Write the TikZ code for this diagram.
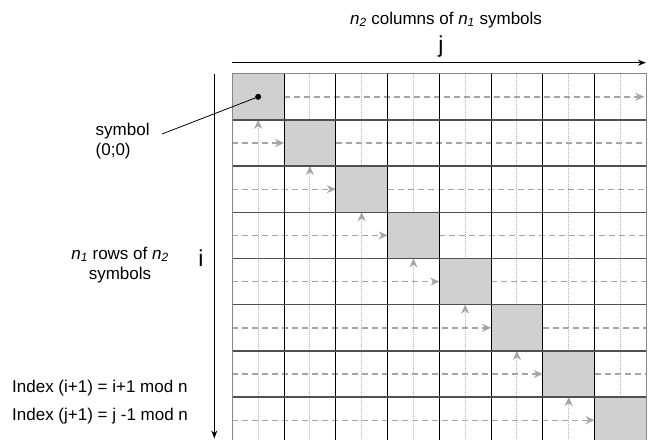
\documentclass[tikz,border=0pt]{standalone}
\usepackage{fontspec}
\setmainfont{Liberation Sans}
\usetikzlibrary{arrows.meta,calc}
\definecolor{cellgray}{RGB}{208,208,208}
\definecolor{pathgray}{RGB}{165,165,165}
\definecolor{dotgray}{RGB}{180,180,180}
\definecolor{rowline}{RGB}{80,80,80}
\definecolor{frameline}{RGB}{135,135,135}

\begin{document}
\begin{tikzpicture}[x=1pt,y=-1pt,
    rowpath/.style={draw=pathgray,line width=1.4pt,dash pattern=on 6pt off 4pt},
    colpath/.style={draw=dotgray,line width=0.9pt,dash pattern=on 1pt off 1pt},
    pathtip/.style={-{Stealth[length=9pt,width=8pt,color=pathgray]}},
    axis/.style={line width=1.1pt,-{Stealth[length=8pt,width=6pt]}},
    hline/.style={draw=rowline,line width=1.3pt},
    vline/.style={draw=black,line width=1pt},
    frame/.style={draw=frameline,line width=1.4pt},
    lbl/.style={font=\fontsize{17}{20}\selectfont,inner sep=0pt},
    axlbl/.style={font=\fontsize{23}{26}\selectfont,inner sep=0pt}]
  \useasboundingbox (0,0) rectangle (650,439);
  \clip (0,0) rectangle (650,439);
  \def\gx{232.3}\def\gy{73.7}\def\cw{51.75}\def\ch{46.2}
  % diagonal symbols
  \foreach \k in {0,...,7}
    \fill[cellgray] ({\gx+\k*\cw},{\gy+\k*\ch}) rectangle ++(\cw,\ch);
  % read paths through the matrix
  \foreach \k in {0,...,7}{
    \pgfmathsetmacro\xm{\gx+(\k+0.5)*\cw}
    \pgfmathsetmacro\ym{\gy+(\k+0.5)*\ch}
    \ifnum\k>0
      \draw[colpath] (\xm,\gy) -- (\xm,{\gy+\k*\ch});
      \draw[rowpath,pathtip] (\gx,\ym) -- ({\gx+\k*\cw},\ym);
      \ifnum\k<7
        \draw[rowpath] ({\gx+(\k+1)*\cw},\ym) -- ({\gx+8*\cw},\ym);
      \fi
    \fi
    \ifnum\k<7
      \draw[colpath,pathtip] (\xm,{\gy+8*\ch}) -- (\xm,{\gy+(\k+1)*\ch});
    \fi
  }
  \draw[rowpath,pathtip] ({\gx+\cw},{\gy+0.5*\ch}) -- ({\gx+8*\cw-2},{\gy+0.5*\ch});
  % grid
  \foreach \k in {1,...,7}
    \draw[vline] ({\gx+\k*\cw},\gy) -- ++(0,{8*\ch});
  \foreach \k in {1,...,8}
    \draw[hline] (\gx,{\gy+\k*\ch}) -- ++({8*\cw},0);
  \draw[frame] (\gx,{\gy+8*\ch}) -- (\gx,\gy) -- ({\gx+8*\cw},\gy) -- ++(0,{8*\ch});
  % axes
  \coordinate (jstart) at (\gx,62.7);
  \coordinate (jend) at (646,62.7);
  \coordinate (istart) at (214.3,\gy);
  \coordinate (iend) at (214.3,438.5);
  \draw[axis] (jstart) -- (jend);
  \draw[axis] (istart) -- (iend);
  \node[axlbl,anchor=base] (jlbl) at (441,52.5) {j};
  \node[axlbl,anchor=base] (ilbl) at (201,266) {i};
  \node[lbl,anchor=base] (title) at (446,24) {\textit{n}\textsubscript{\textit{2}} columns of \textit{n}\textsubscript{\textit{1}} symbols};
  \node[lbl,align=center,anchor=north] (rows) at (120,246.5) {\textit{n}\textsubscript{\textit{1}} rows of \textit{n}\textsubscript{\textit{2}}\\symbols};
  % symbol (0;0)
  \node[circle,fill=black,inner sep=0pt,minimum size=6pt] (origin) at ({\gx+0.5*\cw},{\gy+0.5*\ch}) {};
  \node[lbl,align=left,anchor=north west] (symlbl) at (95.5,122.5) {symbol\\(0;0)};
  \coordinate (symtip) at (162,134);
  \draw[line width=0.8pt] (symtip) -- (origin.center);
  % index rules
  \node[lbl,anchor=base west] (idxi) at (12,392) {Index (i+1) = i+1 mod n};
  \node[lbl,anchor=base west] (idxj) at (12,420) {Index (j+1) = j -1 mod n};
\end{tikzpicture}
\end{document}
